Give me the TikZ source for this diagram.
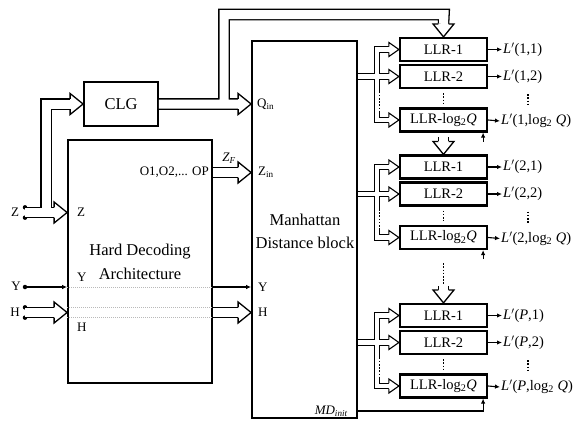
\documentclass[tikz,border=0pt]{standalone}
\usepackage{fontspec}
\setmainfont{Liberation Serif}
\usetikzlibrary{positioning,calc,arrows.meta}
\newcommand{\fsz}[1]{\fontsize{#1}{#1}\selectfont}
\tikzset{
  blk/.style={draw,line width=1.8pt,inner sep=0},
  llr/.style={draw,line width=2.2pt,minimum width=87pt,minimum height=23pt,inner sep=0,font=\fsz{14.5}},
  port/.style={inner sep=0,font=\fsz{13}},
  outlab/.style={anchor=west,inner sep=1pt,font=\fsz{14.5}},
  pin/.style={circle,fill,inner sep=0,minimum size=4.5pt},
  busline/.style={double,double distance=9pt,line width=1.3pt},
  fbusline/.style={double,double distance=4.5pt,line width=1.1pt},
  % hollow heads for the buses, tip at the pic origin
  hollow/.pic={\draw[line width=1.3pt,fill=white] (-13pt,5.15pt) -- (-13pt,10.5pt) -- (0pt,0pt) -- (-13pt,-10.5pt) -- (-13pt,-5.15pt);},
  fhollow/.pic={\draw[line width=1.1pt,fill=white] (-10pt,2.8pt) -- (-10pt,7pt) -- (0pt,0pt) -- (-10pt,-7pt) -- (-10pt,-2.8pt);},
  sig/.style={line width=1.1pt,-{Latex[length=5pt,width=4.5pt]}},
  thru/.style={gray!55,line width=0.9pt,dash pattern=on 1.2pt off 0.8pt},
  vdot/.style={line width=1.6pt,dash pattern=on 1.6pt off 1.6pt},
}
\begin{document}
\begin{tikzpicture}[x=1pt,y=-1pt]
  \useasboundingbox (0,0) rectangle (579,421);
  % main blocks
  \node[blk,minimum width=74pt,minimum height=44pt,font=\fsz{16.5}] (clg) at (121,104) {CLG};
  \node[blk,minimum width=144pt,minimum height=243pt] (hda) at (140,261.5) {};
  \node[align=center,inner sep=0,font=\fontsize{16.5}{23.5}\selectfont] (hdat) at (140,262) {Hard Decoding\\Architecture};
  \node[blk,minimum width=105pt,minimum height=377pt] (mdb) at (304.5,229.5) {};
  \node[align=center,inner sep=0,font=\fontsize{16.5}{23}\selectfont] (mdbt) at (305,231.5) {Manhattan\\Distance block};
  % port labels
  \node[port,anchor=west] (pz) at (77,212) {Z};
  \node[port,anchor=west] (py) at (77,277) {Y};
  \node[port,anchor=west] (ph) at (77,327) {H};
  \node[port,anchor=east] (po) at (209,172.5) {O1,O2,... OP};
  \node[port] (zf) at (229,158) {\textit{Z}\textsubscript{\textit{F}}};
  \node[port,anchor=west] (qin) at (257,104) {Q\textsubscript{in}};
  \node[port,anchor=west] (zin) at (258,172.5) {Z\textsubscript{in}};
  \node[port,anchor=west] (yin) at (258,287) {Y};
  \node[port,anchor=west] (hin) at (258,312.5) {H};
  \node[port,anchor=east] (mdi) at (348,411) {\textit{MD}\textsubscript{\textit{init}}};
  % inputs
  \node[pin] (z1) at (25,207.35) {};
  \node[pin] (z2) at (25,217.65) {};
  \node[port] (zl) at (15,212.5) {Z};
  \node[pin] (y1) at (25,287) {};
  \node[port] (yl) at (16,286) {Y};
  \node[pin] (h1) at (25,307.35) {};
  \node[pin] (h2) at (25,317.65) {};
  \node[port] (hl) at (15,312.5) {H};
  \coordinate (zb) at (25,212.5);
  \coordinate (hb) at (25,312.5);
  \coordinate (zfork) at (46,212.5);
  \coordinate (qfork) at (224,104);
  \coordinate (qtop) at (444,14.5);
  \coordinate (zend) at (hda.west |- zb);
  \coordinate (qend) at (clg.east -| mdb.west);
  \coordinate (zfend) at (mdb.west |- zin);
  \coordinate (hend1) at (hda.west |- hb);
  \coordinate (hend2) at (mdb.west |- hb);
  % LLR groups
  \foreach \g/\dy/\lab in {1/0/1, 2/117.5/2, P/266/{\textit{P}}} {
    \begin{scope}[yshift=-\dy pt]
      \node[llr] (llr\g-1) at (443.5,49.5) {LLR-1};
      \node[llr] (llr\g-2) at (443.5,76.5) {LLR-2};
      \node[llr] (llr\g-q) at (443.5,120) {LLR-log\textsubscript{2}\textit{Q}};
      \node[outlab] (o\g-1) at (502,49.5) {\textit{L}$'$(\lab,1)};
      \node[outlab] (o\g-2) at (502,76.5) {\textit{L}$'$(\lab,2)};
      \node[outlab] (o\g-q) at (500,121) {\textit{L}$'$(\lab,log\textsubscript{2} \textit{Q})};
      \coordinate (f\g) at (377,76.5);
    \end{scope}
    \draw[fbusline] (mdb.east |- f\g) -- ([xshift=-10pt]llr\g-2.west)
      (f\g) |- ([xshift=-10pt]llr\g-1.west) (f\g) |- ([xshift=-10pt]llr\g-q.west);
    \draw[white,line width=1.8pt] ($(f\g)+(2.8,15)$) -- ($(f\g)+(2.8,35)$);
    \draw[vdot,line width=1.1pt] ($(f\g)+(2.8,15)$) -- ($(f\g)+(2.8,35)$);
    \foreach \r in {1,2,q} {
      \pic at (llr\g-\r.west) {fhollow};
      \draw[sig] (llr\g-\r.east) -- (o\g-\r.west);
    }
    \draw[vdot] ([yshift=-4pt]llr\g-2.south) -- ([yshift=4pt]llr\g-q.north);
    \draw[vdot] ($(llr\g-2.south)+(84.5,5)$) -- ($(llr\g-q.north)+(84.5,-2)$);
  }
  % Z bus to hard decoder and CLG
  \draw[busline] (zb) -- ([xshift=-13pt]zend) (zfork) |- ([xshift=-13pt]clg.west);
  \pic at (zend) {hollow};
  \pic at (clg.west) {hollow};
  % Q bus to MD block and LLR units
  \draw[busline] (clg.east) -- ([xshift=-13pt]qend) (qfork) |- (qtop) -- ([yshift=13pt]llr1-1.north);
  \pic at (qend) {hollow};
  \pic[rotate=-90] at (llr1-1.north) {hollow};
  \foreach \g in {2,P} {
    \draw[busline] ([yshift=17pt]llr\g-1.north) -- ([yshift=13pt]llr\g-1.north);
    \pic[rotate=-90] at (llr\g-1.north) {hollow};
  }
  \draw[vdot] ($(llr2-q.south)+(0,13)$) -- ($(llrP-1.north)+(0,-19)$);
  % Z_F, Y and H
  \draw[busline] (hda.east |- zin) -- ([xshift=-13pt]zfend);
  \pic at (zfend) {hollow};
  \draw[sig] (y1) -- (hda.west |- y1);
  \draw[thru] (hda.west |- y1) -- (hda.east |- y1);
  \draw[sig] (hda.east |- y1) -- (mdb.west |- y1);
  \draw[busline] (hb) -- ([xshift=-13pt]hend1);
  \pic at (hend1) {hollow};
  \draw[thru] (hda.west |- h1) -- (hda.east |- h1);
  \draw[thru] (hda.west |- h2) -- (hda.east |- h2);
  \draw[busline] (hda.east |- hb) -- ([xshift=-13pt]hend2);
  \pic at (hend2) {hollow};
  % MD init
  \draw[sig] (mdb.east |- mdi) -| ([xshift=-5pt]llrP-q.south east);
  \foreach \g in {1,2}
    \draw[sig] ([xshift=-5pt,yshift=-9pt]llr\g-q.south east) -- ([xshift=-5pt]llr\g-q.south east);
\end{tikzpicture}
\end{document}
